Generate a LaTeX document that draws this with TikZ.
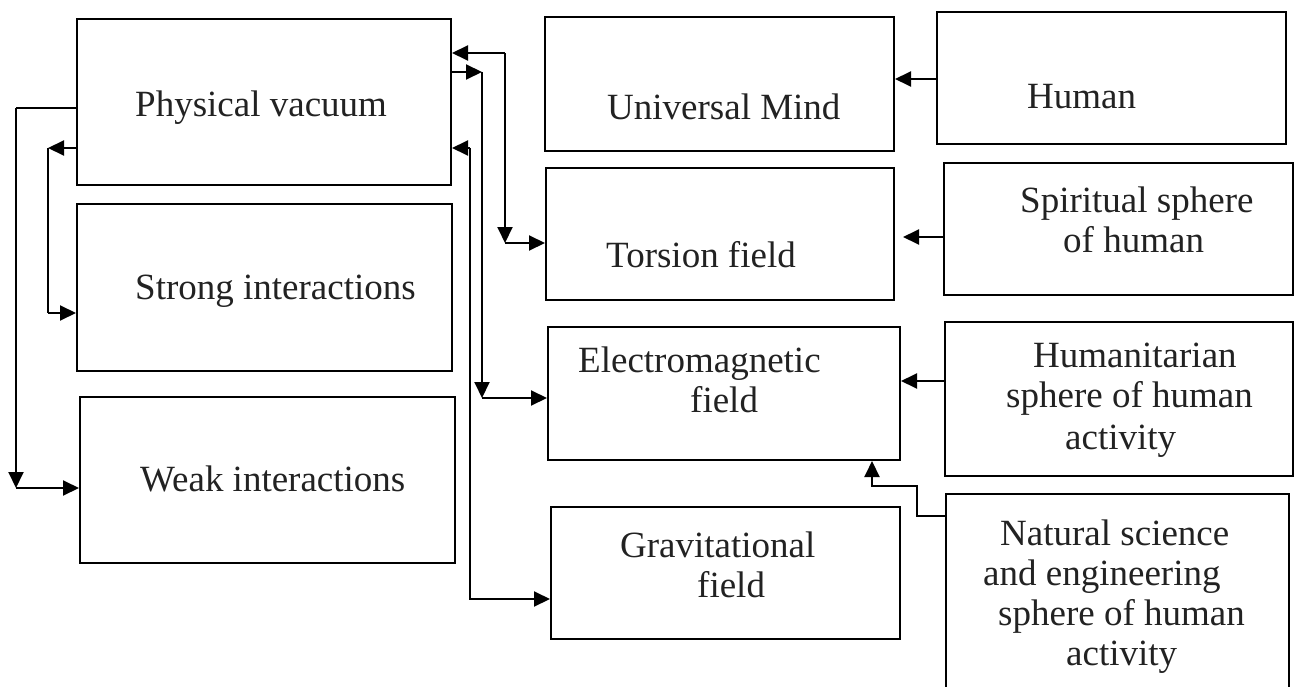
\documentclass[tikz,border=0pt]{standalone}
\usepackage{fontspec}
\setmainfont{Liberation Serif}
\usetikzlibrary{arrows.meta,fit}
\definecolor{txt}{HTML}{222222}
\begin{document}
\begin{tikzpicture}[x=1pt,y=-1pt,
  box/.style={draw, line width=2pt, inner sep=0pt},
  ln/.style={line width=2pt},
  arr/.style={line width=2pt, -{Triangle[length=16pt,width=15pt]}},
  lbl/.style={anchor=base west, inner sep=0pt, text=txt, font=\fontsize{37}{40}\selectfont}]
\useasboundingbox (0,0) rectangle (1297,687);
\clip (0,0) rectangle (1297,687);
% boxes
\node[box, fit={(77,19) (451,185)}] (pv) {};
\node[box, fit={(77,204) (452,371)}] (si) {};
\node[box, fit={(80,397) (455,563)}] (wi) {};
\node[box, fit={(545,17) (894,151)}] (um) {};
\node[box, fit={(546,168) (894,300)}] (tf) {};
\node[box, fit={(548,327) (900,460)}] (em) {};
\node[box, fit={(551,507) (900,639)}] (gf) {};
\node[box, fit={(937,12) (1286,144)}] (hu) {};
\node[box, fit={(944,163) (1293,295)}] (ss) {};
\node[box, fit={(945,322) (1293,476)}] (hs) {};
\node[box, fit={(946,494) (1289,700)}] (ns) {};
% texts
\node[lbl] (tpv) at (135,117) {Physical vacuum};
\node[lbl] (tsi) at (135,299) {Strong interactions};
\node[lbl] (twi) at (140,491) {Weak interactions};
\node[lbl] (tum) at (607,120) {Universal Mind};
\node[lbl] (ttf) at (606,267) {Torsion field};
\node[lbl] (thu) at (1027,109) {Human};
\node[lbl] (tss1) at (1020,212) {Spiritual sphere};
\node[lbl] (tss2) at (1063,252) {of human};
\node[lbl] (tem1) at (578,372) {Electromagnetic};
\node[lbl] (tem2) at (690,412) {field};
\node[lbl] (ths1) at (1033,367) {Humanitarian};
\node[lbl] (ths2) at (1006,407) {sphere of human};
\node[lbl] (ths3) at (1065,449) {activity};
\node[lbl] (tgf1) at (620,557) {Gravitational};
\node[lbl] (tgf2) at (697,597) {field};
\node[lbl] (tns1) at (1000,545) {Natural science};
\node[lbl] (tns2) at (983,585) {and engineering};
\node[lbl] (tns3) at (998,625) {sphere of human};
\node[lbl] (tns4) at (1066,665) {activity};
% connectors: physical vacuum <-> torsion field
\coordinate (a1) at (505,53);
\coordinate (a2) at (505,243);
\draw[arr] (a1) -- (pv.east |- a1);
\draw[arr] (a1) -- (a2);
\draw[arr] (a2) -- (tf.west |- a2);
% physical vacuum -> electromagnetic field
\coordinate (b1) at (482,72);
\coordinate (b2) at (482,398);
\draw[arr] (pv.east |- b1) -- (b1);
\draw[arr] (b1) -- (b2);
\draw[arr] (b2) -- (em.west |- b2);
% physical vacuum <-> gravitational field
\coordinate (c1) at (470,148);
\coordinate (c2) at (470,599);
\draw[arr] (c1) -- (pv.east |- c1);
\draw[arr] (c1) -- (c2) -- (gf.west |- c2);
% physical vacuum -> weak interactions
\coordinate (d1) at (16,108);
\coordinate (d2) at (16,488);
\draw[ln] (pv.west |- d1) -- (d1);
\draw[arr] (d1) -- (d2);
\draw[arr] (d2) -- (wi.west |- d2);
% physical vacuum -> strong interactions
\coordinate (e1) at (48,148);
\coordinate (e2) at (48,313);
\draw[arr] (pv.west |- e1) -- (e1);
\draw[ln] (e1) -- (e2);
\draw[arr] (e2) -- (si.west |- e2);
% right column
\coordinate (g1) at (0,79);
\coordinate (g2) at (0,237);
\coordinate (g3) at (0,381);
\draw[arr] (hu.west |- g1) -- (um.east |- g1);
\draw[arr, shorten >=8pt] (ss.west |- g2) -- (tf.east |- g2);
\draw[arr] (hs.west |- g3) -- (em.east |- g3);
\coordinate (f1) at (917,516);
\coordinate (f2) at (917,486);
\coordinate (f3) at (872,486);
\draw[arr] (ns.west |- f1) -- (f1) -- (f2) -- (f3) -- (em.south -| f3);
\end{tikzpicture}
\end{document}
